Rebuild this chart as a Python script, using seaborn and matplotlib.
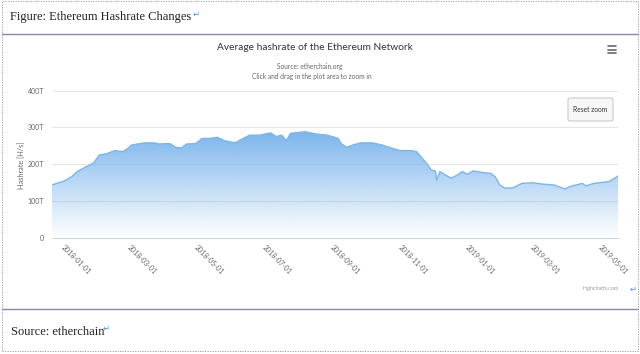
import matplotlib
matplotlib.use("Agg")
import matplotlib.pyplot as plt
import matplotlib.dates as mdates
from matplotlib.patches import FancyBboxPatch, Rectangle
from matplotlib.lines import Line2D
import numpy as np
import pandas as pd
import seaborn as sns

# average network hashrate (TH/s)
dates = ["2017-12-22", "2018-01-02", "2018-01-09", "2018-01-14", "2018-01-22", "2018-01-29",
         "2018-02-03", "2018-02-10", "2018-02-17", "2018-02-24", "2018-03-01", "2018-03-04",
         "2018-03-16", "2018-03-25", "2018-03-29", "2018-04-08", "2018-04-13", "2018-04-18",
         "2018-04-23", "2018-05-01", "2018-05-07", "2018-05-14", "2018-05-21", "2018-05-27",
         "2018-06-06", "2018-06-13", "2018-06-19", "2018-06-28", "2018-07-08", "2018-07-13",
         "2018-07-18", "2018-07-22", "2018-07-26", "2018-08-08", "2018-08-18", "2018-08-28",
         "2018-09-07", "2018-09-10", "2018-09-15", "2018-09-20", "2018-09-27", "2018-10-08",
         "2018-10-17", "2018-10-26", "2018-11-02", "2018-11-12", "2018-11-17", "2018-11-22",
         "2018-11-27", "2018-11-30", "2018-12-04", "2018-12-05", "2018-12-08", "2018-12-18",
         "2018-12-24", "2018-12-28", "2019-01-02", "2019-01-07", "2019-01-15", "2019-01-23",
         "2019-01-27", "2019-01-31", "2019-02-05", "2019-02-12", "2019-02-20", "2019-03-01",
         "2019-03-11", "2019-03-21", "2019-03-31", "2019-04-06", "2019-04-16", "2019-04-19",
         "2019-04-26", "2019-05-10", "2019-05-18"]
hashrate_th = [144, 154, 166, 180, 193, 204,
               225, 229, 237, 234, 243, 252,
               258, 258, 255, 256, 246, 244,
               255, 256, 270, 270, 273, 264,
               258, 270, 279, 279, 285, 275,
               279, 264, 284, 288, 282, 279,
               270, 255, 246, 252, 258, 258,
               252, 243, 237, 237, 234, 216,
               198, 184, 182, 157, 180, 162,
               171, 180, 173, 182, 178, 175,
               166, 144, 135, 136, 148, 150,
               146, 144, 133, 141, 148, 141,
               148, 153, 168]

tick_dates = ["2018-01-01", "2018-03-01", "2018-05-01", "2018-07-01", "2018-09-01",
              "2018-11-01", "2019-01-01", "2019-03-01", "2019-05-01"]
y_ticks = [0, 100, 200, 300, 400]
y_tick_labels = ["0", "100T", "200T", "300T", "400T"]

SERIES_COLOR = "#7cb5ec"
W, H = 640, 354


def fx(x):
    return x / W


def fy(y):
    return 1 - y / H


sns.set_style("white")
plt.rcParams["font.family"] = ["Lato", "DejaVu Sans"]

df = pd.DataFrame({"date": pd.to_datetime(dates), "hashrate": hashrate_th})

fig = plt.figure(figsize=(W / 100, H / 100), dpi=100)
ax = fig.add_axes([fx(51.7), fy(238), (618 - 51.7) / W, (238 - 90.5) / H])

# area fill with a vertical gradient, clipped to the series outline
area = ax.fill_between(df["date"], 0, df["hashrate"], color="none", lw=0)
x_num = mdates.date2num(df["date"])
rgb = matplotlib.colors.to_rgb(SERIES_COLOR)
grad = np.zeros((256, 1, 4))
grad[:, 0, :3] = rgb
grad[:, 0, 3] = np.linspace(0, 1, 256)
im = ax.imshow(grad, origin="lower", aspect="auto", interpolation="bilinear",
               extent=[x_num[0], x_num[-1], 0, max(hashrate_th)], zorder=1)
im.set_clip_path(area.get_paths()[0], transform=ax.transData)

sns.lineplot(data=df, x="date", y="hashrate", color=SERIES_COLOR, lw=1, ax=ax, zorder=2)

ax.set_xlim(x_num[0], x_num[-1])
ax.set_ylim(0, 400)
ax.set_yticks(y_ticks)
ax.set_yticklabels(y_tick_labels, fontsize=5, color="#666666")
ax.yaxis.grid(True, color="#e6e6e6", lw=0.8, zorder=0)
ax.set_axisbelow(True)
ax.tick_params(axis="y", length=0, pad=5.3)

tick_num = mdates.date2num(pd.to_datetime(tick_dates))
ax.set_xticks(tick_num)
ax.set_xticklabels(tick_dates, rotation=-45, ha="left", va="center",
                   rotation_mode="anchor", fontsize=5, color="#666666")
ax.tick_params(axis="x", direction="out", length=3.6, width=0.8, color="#ccd6eb", pad=2)
ax.set_xlabel("")
ax.set_ylabel("")
for side in ["top", "left", "right"]:
    ax.spines[side].set_visible(False)
ax.spines["bottom"].set_color("#ccd6eb")
ax.spines["bottom"].set_linewidth(0.8)

fig.text(fx(21.7), fy(165), "Hashrate [H/s]", rotation=90, ha="center", va="center",
         fontsize=5.3, color="#666666")

# chart titles
fig.text(fx(315), fy(47.3), "Average hashrate of the Ethereum Network", ha="center", va="center",
         fontsize=7.3, color="#333333")
fig.text(fx(310), fy(66), "Source: etherchain.org", ha="center", va="center",
         fontsize=4.8, color="#666666")
fig.text(fx(312), fy(76), "Click and drag in the plot area to zoom in", ha="center", va="center",
         fontsize=4.8, color="#666666")

# context menu icon
for yy in [46, 49.5, 53]:
    fig.add_artist(Line2D([fx(608), fx(616)], [fy(yy), fy(yy)], color="#666666", lw=1.2))

# reset zoom button
fig.add_artist(FancyBboxPatch((fx(568), fy(121)), (613 - 568) / W, (121 - 98) / H,
                              boxstyle="round,pad=0,rounding_size=0.004",
                              facecolor="#f7f7f7", edgecolor="#cccccc", lw=0.8,
                              transform=fig.transFigure))
fig.text(fx(590.5), fy(109.5), "Reset zoom", ha="center", va="center", fontsize=4.8, color="#333333")
fig.text(fx(619), fy(288.3), "Highcharts.com", ha="right", va="center", fontsize=3.8, color="#999999")

# document frame around the chart
fig.add_artist(Rectangle((fx(2), fy(351)), (638 - 2) / W, (351 - 1) / H, fill=False,
                         edgecolor="#999999", lw=0.6, linestyle=(0, (1.5, 1.5)),
                         transform=fig.transFigure))
for yy in [33.5, 309.3]:
    fig.add_artist(Line2D([fx(2), fx(638)], [fy(yy), fy(yy)], color="#8585ad", lw=1))

fig.text(fx(10), fy(17), "Figure: Ethereum Hashrate Changes", family="Liberation Serif",
         fontsize=9, color="#222222", va="center")
fig.text(fx(10.7), fy(331.7), "Source: etherchain", family="Liberation Serif",
         fontsize=9, color="#222222", va="center")
for x0, y0 in [(193, 14), (103, 328.5), (630, 289)]:
    fig.text(fx(x0), fy(y0), "\u21b5", family="DejaVu Sans", fontsize=6, color="#4a90e2",
             va="center", ha="left")

fig.savefig("out.png", dpi=100)
